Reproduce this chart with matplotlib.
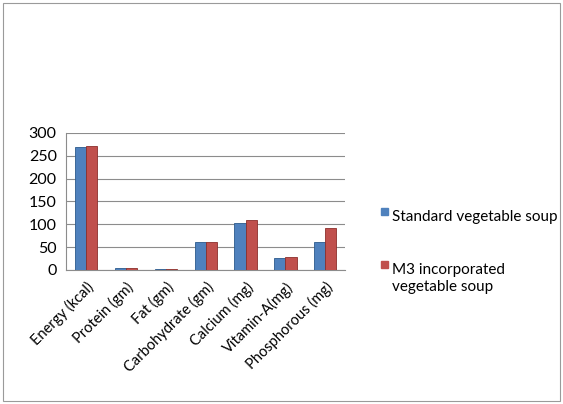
import matplotlib
matplotlib.use("Agg")
import matplotlib.pyplot as plt
import numpy as np
from matplotlib.patches import Rectangle

# values
categories = ["Energy (kcal)", "Protein (gm)", "Fat (gm)", "Carbohydrate (gm)",
              "Calcium (mg)", "Vitamin-A(mg)", "Phosphorous (mg)"]
standard = [270, 4, 2, 62, 103, 26, 60]
m3_soup = [272, 5, 3, 62, 110, 29, 91]
yticks = [0, 50, 100, 150, 200, 250, 300]
series_names = ["Standard vegetable soup", "M3 incorporated\nvegetable soup"]

BLUE = "#4F81BD"
RED = "#C0504D"

plt.rcParams["font.family"] = ["Lato", "DejaVu Sans"]

fig = plt.figure(figsize=(5.63, 4.04), dpi=100)
fig.patches.append(Rectangle((0.005, 0.008), 0.99, 0.985, transform=fig.transFigure,
                             fill=False, edgecolor="#9a9a9a", lw=0.8))

ax = fig.add_axes([0.118, 0.332, 0.495, 0.339])
x = np.arange(len(categories))
w = 0.28
ax.bar(x - w / 2, standard, w, color=BLUE, edgecolor="#2c5a8c", lw=0.6, zorder=3)
ax.bar(x + w / 2, m3_soup, w, color=RED, edgecolor="#8c2f2c", lw=0.6, zorder=3)

ax.set_xlim(-0.5, len(categories) - 0.5)
ax.set_ylim(0, 300)
ax.set_yticks(yticks)
ax.set_yticklabels([str(t) for t in yticks], fontsize=11.5)
ax.set_xticks(x)
ax.set_xticklabels(categories, rotation=45, ha="right", rotation_mode="anchor",
                   fontsize=10.5)
ax.tick_params(length=0, pad=7)
ax.yaxis.grid(True, color="#8c8c8c", lw=0.8, zorder=0)
for s in ["top", "right"]:
    ax.spines[s].set_visible(False)
ax.spines["left"].set_color("#8c8c8c")
ax.spines["bottom"].set_color("#8c8c8c")

# legend: square aligned with the first line of each entry
for (ytop, name, col) in [(0.48, series_names[0], BLUE), (0.349, series_names[1], RED)]:
    fig.patches.append(Rectangle((0.677, ytop - 0.012), 0.0125, 0.0175,
                                 transform=fig.transFigure, color=col))
    fig.text(0.697, ytop, name, fontsize=11, va="top", ha="left",
             linespacing=1.25)

fig.savefig("out.png", dpi=100)
